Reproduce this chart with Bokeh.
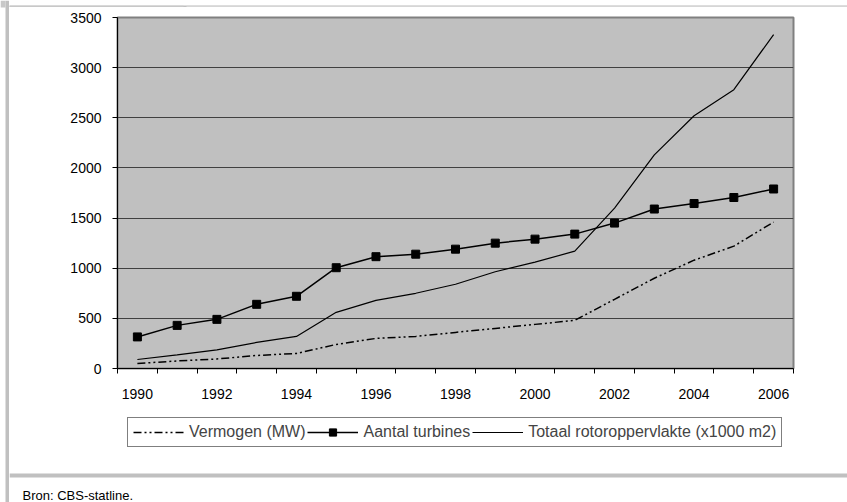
from bokeh.plotting import figure
from bokeh.layouts import row, column
from bokeh.models import (FixedTicker, Legend, LegendItem, Label, BoxAnnotation, Range1d)
from bokeh.embed import file_html
from bokeh.resources import INLINE

# ---- data ----
years = list(range(1990, 2007))
vermogen = [50, 75, 95, 130, 150, 240, 300, 320, 360, 400, 440, 480, 690, 900, 1080, 1220, 1460]
turbines = [315, 430, 490, 640, 720, 1005, 1115, 1140, 1190, 1250, 1290, 1340, 1450, 1590, 1645, 1705, 1790]
rotor = [90, 135, 185, 260, 320, 560, 680, 750, 840, 965, 1060, 1170, 1600, 2130, 2520, 2780, 3330]
y_ticks = [0, 500, 1000, 1500, 2000, 2500, 3000, 3500]
x_label_years = [1990, 1992, 1994, 1996, 1998, 2000, 2002, 2004, 2006]
series_names = ["Vermogen (MW)", "Aantal turbines", "Totaal rotoroppervlakte (x1000 m2)"]
caption = "Bron: CBS-statline."

FONT = "Liberation Sans"
GRAY = "#c0c0c0"
DASH = "8 3 2 3 2 3"


def no_align(f):
    try:
        f.frame_align = False
    except Exception:
        pass


def blank(w, h):
    f = figure(width=w, height=h, output_backend="svg", toolbar_location=None, title=None,
               x_axis_type=None, y_axis_type=None, min_border=0,
               x_range=Range1d(0, w), y_range=Range1d(0, h))
    f.outline_line_color = None
    f.grid.visible = False
    f.background_fill_color = "white"
    f.border_fill_color = "white"
    no_align(f)
    return f


def box(f, l, r, t, b, color):
    # l, r, t, b in pixels from the figure's top-left corner
    h = f.height
    f.add_layout(BoxAnnotation(left=l, right=r, top=h - t, bottom=h - b,
                               left_units="screen", right_units="screen",
                               top_units="screen", bottom_units="screen",
                               fill_color=color, fill_alpha=1, line_color=None))


def draw_series(f):
    rv = f.line(years, vermogen, line_color="black", line_width=1.5, line_dash=DASH)
    rr = f.line(years, rotor, line_color="black", line_width=1.2)
    rt = f.line(years, turbines, line_color="black", line_width=1.5)
    rm = f.scatter(years, turbines, marker="square", size=8, fill_color="black", line_color="black")
    return rv, rt, rm, rr


# ---- main chart ----
MW, MH = 838, 403
ML, MR, MT, MB = 108, 54, 10, 42

p = figure(width=MW, height=MH, output_backend="svg", toolbar_location=None, title=None,
           x_range=Range1d(years[0] - 0.5, years[-1] + 0.5), y_range=Range1d(0, 3500),
           min_border_left=ML, min_border_right=MR, min_border_top=MT, min_border_bottom=MB)
no_align(p)
p.background_fill_color = GRAY
p.border_fill_color = "white"
p.outline_line_color = "#808080"
p.outline_line_width = 2

p.xgrid.visible = False
p.ygrid.ticker = FixedTicker(ticks=y_ticks[1:-1])
p.ygrid.grid_line_color = "#404040"
p.ygrid.grid_line_width = 1

ya = p.yaxis[0]
ya.ticker = FixedTicker(ticks=y_ticks)
ya.axis_line_color = "black"
ya.major_tick_line_color = "black"
ya.major_tick_out = 5
ya.major_tick_in = 0
ya.minor_tick_line_color = None
ya.major_label_standoff = 11
ya.major_label_text_font = FONT
ya.major_label_text_font_size = "14px"
ya.major_label_text_color = "black"

xa = p.xaxis[0]
xa.ticker = FixedTicker(ticks=x_label_years,
                        minor_ticks=[y - 0.5 for y in years] + [years[-1] + 0.5])
xa.axis_line_color = "black"
xa.major_tick_out = 0
xa.major_tick_in = 0
xa.minor_tick_out = 5
xa.minor_tick_in = 0
xa.minor_tick_line_color = "black"
xa.major_label_standoff = 15
xa.major_label_text_font = FONT
xa.major_label_text_font_size = "14px"
xa.major_label_text_color = "black"

draw_series(p)

# ---- lower part: legend, separator, caption ----
LW, LH = MW, 92
low = blank(LW, LH)
# same series, drawn in the lower panel only to feed the legend samples (outside its view)
k_v, k_t, k_tm, k_r = draw_series(low)

legend = Legend(items=[LegendItem(label=series_names[0], renderers=[k_v]),
                       LegendItem(label=series_names[1], renderers=[k_t, k_tm]),
                       LegendItem(label=series_names[2], renderers=[k_r])],
                orientation="horizontal", location=(118, LH - 37))
legend.border_line_color = "black"
legend.border_line_width = 1
legend.background_fill_color = "white"
legend.background_fill_alpha = 1
legend.padding = 5
legend.margin = 0
legend.spacing = 2
legend.glyph_width = 51
legend.glyph_height = 18
legend.label_height = 18
legend.label_standoff = 5
legend.label_text_font = FONT
legend.label_text_font_size = "16px"
low.add_layout(legend)

box(low, 0, LW, 63, 67, GRAY)
low.add_layout(Label(x=13, y=LH - 85, x_units="screen", y_units="screen", text=caption,
                     text_font=FONT, text_font_size="13px", text_baseline="alphabetic",
                     text_color="black"))

# ---- top band and left strip ----
top = blank(MW, 7)
top.background_fill_color = GRAY
box(top, 0, 174, 0, 5, "#c8c8c8")
box(top, 177, MW, 0, 4, "#d6d6d6")

strip = blank(9, 502)
box(strip, 5, 9, 0, 502, GRAY)
box(strip, 0, 5, 0, 7, "#c8c8c8")

layout = row(strip, column(top, p, low, spacing=0), spacing=0)

open("out.html", "w").write(file_html(layout, INLINE))
